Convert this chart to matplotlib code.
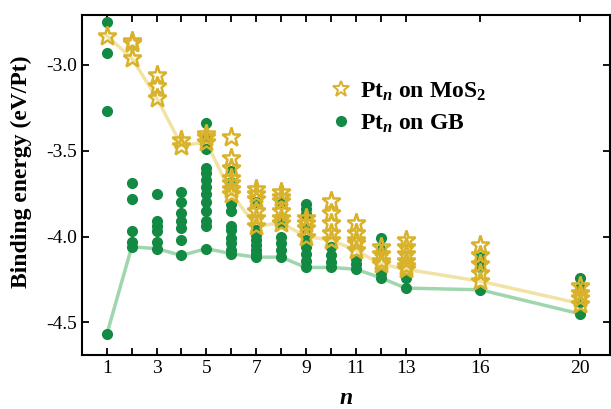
import matplotlib
matplotlib.use("Agg")
import matplotlib.pyplot as plt
from matplotlib.lines import Line2D

# --------------------------------------------------
# DATA (binding energy, eV/Pt)
# --------------------------------------------------

sizes = [1, 2, 3, 4, 5, 6, 7, 8, 9, 10, 11, 12, 13, 16, 20]

mos2_energies = [
    [-2.83],
    [-2.86, -2.87, -2.96],
    [-3.06, -3.12, -3.19],
    [-3.44, -3.47],
    [-3.40, -3.42, -3.45],
    [-3.42, -3.54, -3.60, -3.66, -3.69, -3.72, -3.75],
    [-3.72, -3.75, -3.78, -3.85, -3.89, -3.94],
    [-3.74, -3.77, -3.79, -3.85, -3.89, -3.92],
    [-3.89, -3.92, -3.95, -4.00],
    [-3.79, -3.86, -3.92, -3.98, -4.02],
    [-3.92, -3.98, -4.02, -4.04, -4.08],
    [-4.06, -4.10, -4.14, -4.16],
    [-4.02, -4.06, -4.10, -4.14, -4.17, -4.19],
    [-4.05, -4.11, -4.16, -4.21, -4.26],
    [-4.29, -4.33, -4.36, -4.39],
]

gb_energies = [
    [-2.75, -2.93, -3.27, -4.57],
    [-3.69, -3.78, -3.97, -4.03, -4.06],
    [-3.75, -3.91, -3.94, -3.97, -4.03, -4.07],
    [-3.74, -3.80, -3.86, -3.91, -3.95, -4.02, -4.11],
    [-3.34, -3.42, -3.49, -3.60, -3.63, -3.67, -3.71, -3.75, -3.80,
     -3.85, -3.91, -3.94, -4.07],
    [-3.62, -3.68, -3.81, -3.85, -3.94, -3.96, -4.01, -4.04, -4.08, -4.10],
    [-3.80, -3.96, -3.99, -4.02, -4.05, -4.08, -4.10, -4.12],
    [-3.80, -3.89, -3.92, -4.00, -4.04, -4.08, -4.12],
    [-3.81, -3.84, -3.87, -3.95, -4.02, -4.06, -4.10, -4.14, -4.18],
    [-4.06, -4.11, -4.15, -4.18],
    [-4.13, -4.16, -4.19],
    [-4.01, -4.08, -4.21, -4.24],
    [-4.24, -4.30],
    [-4.12, -4.18, -4.31],
    [-4.24, -4.30, -4.38, -4.45],
]

xticks = [1, 2, 3, 4, 5, 6, 7, 8, 9, 10, 11, 12, 13, 16, 20]
xticklabels = ["1", "", "3", "", "5", "", "7", "", "9", "", "11", "", "13", "16", "20"]
yticks = [-3.0, -3.5, -4.0, -4.5]

GOLD = "#D9B22B"
GREEN = "#138A43"

# --------------------------------------------------
# PLOT
# --------------------------------------------------

def main():
    plt.rcParams["font.family"] = ["Liberation Serif", "DejaVu Serif"]
    plt.rcParams["mathtext.fontset"] = "custom"
    plt.rcParams["mathtext.rm"] = "Liberation Serif:bold"
    plt.rcParams["mathtext.it"] = "Liberation Serif:bold:italic"
    plt.rcParams["mathtext.bf"] = "Liberation Serif:bold"

    fig = plt.figure(figsize=(6.11, 4.09), dpi=100)
    ax = fig.add_axes([0.134, 0.132, 0.864, 0.831])

    # lowest-energy lines
    mos2_min = [min(v) for v in mos2_energies]
    gb_min = [min(v) for v in gb_energies]
    ax.plot(sizes, mos2_min, color="#F1E3A6", lw=2.5, zorder=1)
    ax.plot(sizes, gb_min, color="#A0D6AE", lw=2.5, zorder=1)

    for n, vals in zip(sizes, gb_energies):
        ax.plot([n] * len(vals), vals, "o", color=GREEN, ms=7, mec=GREEN, zorder=2)
    for n, vals in zip(sizes, mos2_energies):
        ax.plot([n] * len(vals), vals, "*", ms=14, mfc="none", mec=GOLD,
                mew=1.8, zorder=3)

    ax.set_xlim(0, 21.2)
    ax.set_ylim(-4.69, -2.71)
    ax.set_xticks(xticks)
    ax.set_xticklabels(xticklabels)
    ax.set_yticks(yticks)
    ax.set_yticklabels(["-3.0", "-3.5", "-4.0", "-4.5"])
    ax.tick_params(direction="in", length=5, width=1.3, labelsize=14,
                   top=True, right=True)
    for s in ax.spines.values():
        s.set_linewidth(1.5)

    ax.set_ylabel("Binding energy (eV/Pt)", fontsize=17, fontweight="bold")
    ax.yaxis.set_label_coords(-0.095, 0.54)
    ax.set_xlabel("$n$", fontsize=17, labelpad=8)

    handles = [
        Line2D([], [], marker="*", ls="none", ms=12, mfc="none", mec=GOLD, mew=1.4),
        Line2D([], [], marker="o", ls="none", ms=7, color=GREEN),
    ]
    labels = [r"Pt$_n$ on MoS$_\mathregular{2}$", r"Pt$_n$ on GB"]
    ax.legend(handles, labels, loc="upper left", bbox_to_anchor=(0.415, 0.87),
              frameon=False, handletextpad=0.0, labelspacing=0.4,
              handlelength=1.6, prop={"size": 17, "weight": "bold"})

    fig.savefig("out.png", dpi=100)
    plt.close(fig)


if __name__ == "__main__":
    main()
